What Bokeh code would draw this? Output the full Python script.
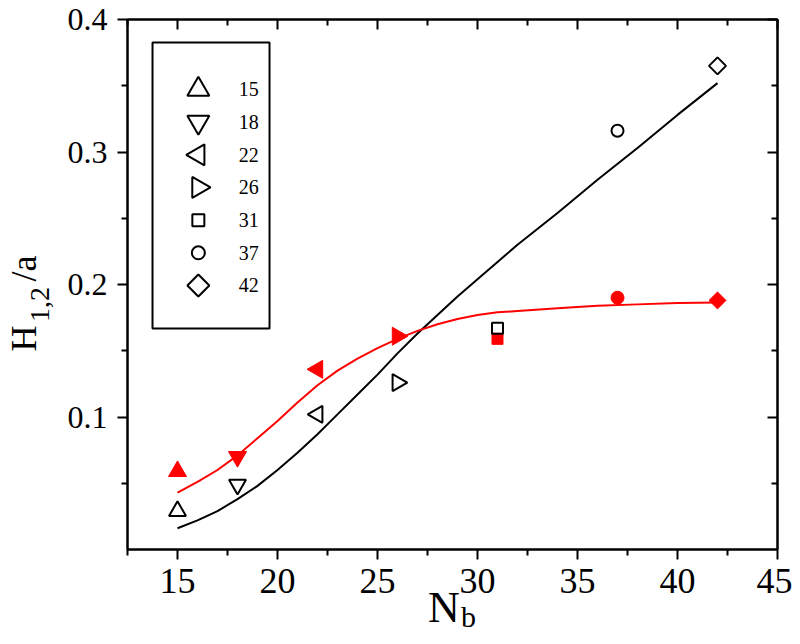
from math import pi
from bokeh.plotting import figure
from bokeh.models import (Range1d, LinearAxis, FixedTicker, BoxAnnotation,
                          CustomJSTickFormatter)
from bokeh.core.properties import value
from bokeh.embed import file_html
from bokeh.resources import INLINE

# ---------------- data ----------------
n_b = [15, 18, 22, 26, 31, 37, 42]
h_open = [0.029, 0.049, 0.102, 0.126, 0.167, 0.316, 0.365]
h_filled = [0.059, 0.070, 0.136, 0.161, 0.159, 0.190, 0.188]

fit_x = [15, 16, 17, 18, 19, 20, 21, 22, 23, 24, 25, 26, 27, 28, 29, 30, 31,
         32, 34, 36, 38, 40, 42]
fit_open = [0.016, 0.022, 0.029, 0.038, 0.048, 0.060, 0.073, 0.087, 0.102,
            0.117, 0.132, 0.148, 0.163, 0.177, 0.191, 0.204, 0.217, 0.230,
            0.254, 0.279, 0.303, 0.328, 0.352]
fit_filled = [0.043, 0.051, 0.060, 0.071, 0.084, 0.097, 0.111, 0.124, 0.135,
              0.144, 0.152, 0.159, 0.165, 0.170, 0.174, 0.177, 0.179, 0.180,
              0.182, 0.184, 0.185, 0.186, 0.1865]

x_ticks = [15, 20, 25, 30, 35, 40, 45]
x_minor = [12.5, 17.5, 22.5, 27.5, 32.5, 37.5, 42.5]
y_ticks = [0.1, 0.2, 0.3, 0.4]
y_minor = [0.05, 0.15, 0.25, 0.35]

x_title = ["N", "b"]
y_title = ["H", "1,2", "/a"]

# ---------------- styles ----------------
FONT = "Liberation Serif"
RED = "#ff0000"
marker_of = ["triangle", "inverted_triangle", "triangle", "triangle", "square", "circle", "square"]
angle_of = [0, 0, pi / 2, -pi / 2, 0, 0, pi / 4]
size_open = [17, 17, 17, 17, 11, 12, 12]
size_filled = [18, 18, 18, 18, 11, 13, 12]
size_legend = [22, 22, 21, 21, 12, 13, 15.5]

X0, X1, Y0, Y1 = 12.5, 45.0, 0.0, 0.4

p = figure(width=792, height=636, output_backend="svg", toolbar_location=None,
           x_range=Range1d(X0, X1), y_range=Range1d(Y0, Y1),
           min_border_left=127, min_border_right=15, min_border_top=19,
           min_border_bottom=87, background_fill_color="white",
           border_fill_color="white")
p.grid.visible = False
p.outline_line_color = "black"
p.outline_line_width = 2


def style_axis(ax, outward=True, labels=True):
    ax.axis_line_width = 2
    ax.major_tick_line_width = 2
    ax.minor_tick_line_width = 2
    if outward:
        ax.major_tick_out, ax.major_tick_in = 10, 0
        ax.minor_tick_out, ax.minor_tick_in = 6, 0
    else:
        ax.major_tick_out, ax.major_tick_in = 0, 10
        ax.minor_tick_out, ax.minor_tick_in = 0, 6
    ax.major_label_text_font = FONT
    ax.major_label_text_color = "black"
    if not labels:
        ax.formatter = CustomJSTickFormatter(code="return ''")
        ax.major_label_text_font_size = "0px"
        ax.major_label_standoff = 0


xa = p.xaxis[0]
xa.ticker = FixedTicker(ticks=x_ticks, minor_ticks=x_minor)
style_axis(xa)
xa.major_label_text_font_size = "36px"
xa.major_label_standoff = 9

ya = p.yaxis[0]
ya.ticker = FixedTicker(ticks=y_ticks, minor_ticks=y_minor)
style_axis(ya)
ya.major_label_text_font_size = "32px"
ya.major_label_standoff = 10

top = LinearAxis(ticker=FixedTicker(ticks=x_ticks, minor_ticks=x_minor))
style_axis(top, outward=False, labels=False)
p.add_layout(top, "above")
right = LinearAxis(ticker=FixedTicker(ticks=y_ticks, minor_ticks=y_minor))
style_axis(right, outward=False, labels=False)
p.add_layout(right, "right")


# ---------------- axis titles: outer, line-less axes whose tick labels are the title pieces ----------------
def title_axis(side, ticks, texts, size, standoff):
    ax = LinearAxis(ticker=FixedTicker(ticks=ticks, minor_ticks=[]),
                    major_label_overrides=dict(zip(ticks, texts)),
                    axis_line_color=None, major_tick_line_color=None,
                    minor_tick_line_color=None, major_tick_out=0, major_tick_in=0,
                    minor_tick_out=0, minor_tick_in=0,
                    major_label_standoff=standoff, major_label_text_font=FONT,
                    major_label_text_font_size=size,
                    major_label_text_color="black")
    if side == "left":
        ax.major_label_orientation = "vertical"
    p.add_layout(ax, side)


# N_b
title_axis("below", [X0 + 15.825], [x_title[0]], "44px", -13)
title_axis("below", [X0 + 17.05], [x_title[1]], "30px", -35)
# H_{1,2}/a (reads bottom to top)
title_axis("left", [Y0 + 0.15925, Y0 + 0.21208], [y_title[0], y_title[2]], "36px", 20)
title_axis("left", [Y0 + 0.18491], [y_title[1]], "28px", -48)

# fitted curves
p.line(fit_x, fit_open, line_color="black", line_width=2)
p.line(fit_x, fit_filled, line_color=RED, line_width=2)

# filled (red) symbols
for i in range(len(n_b)):
    p.scatter([n_b[i]], [h_filled[i]], marker=marker_of[i], angle=angle_of[i],
              size=size_filled[i], fill_color=RED, line_color=RED, line_width=1)

# open (black) symbols
for i in range(len(n_b)):
    p.scatter([n_b[i]], [h_open[i]], marker=marker_of[i], angle=angle_of[i],
              size=size_open[i], fill_color=None, line_color="black", line_width=2)


# ---------------- key (legend box), placed as fractions of the axes ----------------
def fx(f):
    return X0 + f * (X1 - X0)


def fy(f):
    return Y0 + f * (Y1 - Y0)


p.add_layout(BoxAnnotation(left=fx(0.0385), right=fx(0.2185), top=fy(0.9566),
                           bottom=fy(0.4170), fill_alpha=0, line_color="black",
                           line_alpha=1, line_width=2, level="overlay"))
key_x = fx(0.109)
key_tx = fx(0.171)
key_y = [fy(0.868 - i * 0.06164) for i in range(len(n_b))]
for i in range(len(n_b)):
    p.scatter([key_x], [key_y[i]], marker=marker_of[i], angle=angle_of[i],
              size=size_legend[i], fill_color=None, line_color="black", line_width=2)
p.text(x=[key_tx] * len(n_b), y=key_y, text=[str(v) for v in n_b],
       text_font=value(FONT), text_font_size="20px", text_baseline="middle",
       text_align="left", text_color="black")

open("out.html", "w").write(file_html(p, INLINE))
